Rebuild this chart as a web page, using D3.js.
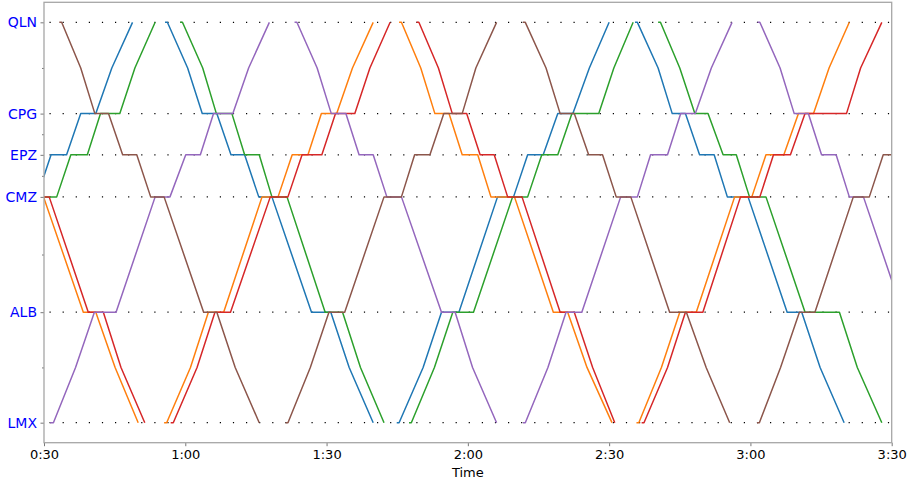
<!DOCTYPE html>
<html>
<head>
<meta charset="utf-8">
<script src="https://cdn.jsdelivr.net/npm/d3@7"></script>
<style>
    body { margin: 0; background: #fff; }
    svg { font-family: 'DejaVu Sans', sans-serif; }
</style>
</head>
<body>
<div id="chart-area"></div>
<script>

// DATA
// =================

// stations along the line (km from LMX)
var stations = ['LMX', 'ALB', 'CMZ', 'EPZ', 'CPG', 'QLN'];
var stationKm = [0, 27.6, 56.4, 66.9, 77.2, 100];

// every point a train passes, incl. the two speed-change points
var pointCodes = ['LMX', 'AL', 'ALB', 'CMZ', 'EPZ', 'CPG', 'QC', 'QLN'];
var pointKm = [0, 13.8, 27.6, 56.4, 66.9, 77.2, 88.6, 100];

// minor y ticks
var minorKm = [13.8, 42.0, 61.65, 72.05, 88.6];

// x ticks (minutes after 0:00)
var timeTicks = [30, 60, 90, 120, 150, 180, 210];

// trips per train: [minute, point]
var blueTrips = [
    [[25.5, 'CMZ'], [28.5, 'CMZ'], [31.5, 'EPZ'], [34.8, 'EPZ'], [37.8, 'CPG'], [41.0, 'CPG'], [44.4, 'QC'], [48.8, 'QLN']],
    [[55.7, 'QLN'], [56.2, 'QLN'], [60.5, 'QC'], [63.6, 'CPG'], [66.7, 'CPG'], [69.7, 'EPZ'], [72.6, 'EPZ'], [75.6, 'CMZ'], [78.4, 'CMZ'], [86.8, 'ALB'], [90.9, 'ALB'], [94.8, 'AL'], [99.9, 'LMX']],
    [[104.9, 'LMX'], [105.4, 'LMX'], [110.5, 'AL'], [114.4, 'ALB'], [118.1, 'ALB'], [126.3, 'CMZ'], [129.7, 'CMZ'], [132.7, 'EPZ'], [136.0, 'EPZ'], [139.1, 'CPG'], [142.3, 'CPG'], [145.8, 'QC'], [150.0, 'QLN']],
    [[155.5, 'QLN'], [156.0, 'QLN'], [160.4, 'QC'], [163.4, 'CPG'], [166.2, 'CPG'], [169.2, 'EPZ'], [172.3, 'EPZ'], [175.1, 'CMZ'], [179.5, 'CMZ'], [187.8, 'ALB'], [190.9, 'ALB'], [194.8, 'AL'], [199.9, 'LMX']]
];

var orangeTrips = [
    [[28.0, 'CMZ'], [29.9, 'CMZ'], [38.35, 'ALB'], [41.0, 'ALB'], [45.1, 'AL'], [50.0, 'LMX']],
    [[55.5, 'LMX'], [56.05, 'LMX'], [61.1, 'AL'], [64.9, 'ALB'], [68.15, 'ALB'], [76.3, 'CMZ'], [79.7, 'CMZ'], [82.7, 'EPZ'], [86.05, 'EPZ'], [88.9, 'CPG'], [92.15, 'CPG'], [95.5, 'QC'], [99.9, 'QLN']],
    [[105.4, 'QLN'], [105.9, 'QLN'], [110.0, 'QC'], [113.0, 'CPG'], [116.0, 'CPG'], [118.8, 'EPZ'], [122.1, 'EPZ'], [124.9, 'CMZ'], [129.9, 'CMZ'], [138.15, 'ALB'], [141.2, 'ALB'], [145.3, 'AL'], [150.6, 'LMX']],
    [[155.8, 'LMX'], [156.3, 'LMX'], [161.1, 'AL'], [165.0, 'ALB'], [168.5, 'ALB'], [176.65, 'CMZ'], [180.3, 'CMZ'], [183.3, 'EPZ'], [187.1, 'EPZ'], [190.2, 'CPG'], [193.4, 'CPG'], [196.7, 'QC'], [201.0, 'QLN']]
];

var greenTrips = [
    [[27.0, 'CMZ'], [32.7, 'CMZ'], [35.7, 'EPZ'], [39.2, 'EPZ'], [42.0, 'CPG'], [46.1, 'CPG'], [49.3, 'QC'], [53.6, 'QLN']],
    [[58.9, 'QLN'], [59.4, 'QLN'], [63.7, 'QC'], [66.6, 'CPG'], [69.9, 'CPG'], [72.6, 'EPZ'], [75.7, 'EPZ'], [78.4, 'CMZ'], [81.6, 'CMZ'], [89.7, 'ALB'], [93.4, 'ALB'], [97.2, 'AL'], [102.2, 'LMX']],
    [[107.5, 'LMX'], [108.0, 'LMX'], [112.9, 'AL'], [116.8, 'ALB'], [121.2, 'ALB'], [129.5, 'CMZ'], [132.7, 'CMZ'], [135.7, 'EPZ'], [139.1, 'EPZ'], [142.1, 'CPG'], [147.8, 'CPG'], [151.0, 'QC'], [155.1, 'QLN']],
    [[160.4, 'QLN'], [160.9, 'QLN'], [165.0, 'QC'], [168.2, 'CPG'], [171.0, 'CPG'], [174.2, 'EPZ'], [177.0, 'EPZ'], [179.8, 'CMZ'], [183.3, 'CMZ'], [191.6, 'ALB'], [198.9, 'ALB'], [202.7, 'AL'], [207.9, 'LMX']]
];

var redTrips = [
    [[28.0, 'CMZ'], [31.1, 'CMZ'], [39.4, 'ALB'], [42.6, 'ALB'], [46.35, 'AL'], [51.4, 'LMX']],
    [[56.9, 'LMX'], [57.45, 'LMX'], [62.5, 'AL'], [66.3, 'ALB'], [69.6, 'ALB'], [78.05, 'CMZ'], [81.8, 'CMZ'], [84.8, 'EPZ'], [89.0, 'EPZ'], [91.9, 'CPG'], [96.0, 'CPG'], [99.2, 'QC'], [103.5, 'QLN']],
    [[109.1, 'QLN'], [109.6, 'QLN'], [113.75, 'QC'], [116.7, 'CPG'], [119.75, 'CPG'], [122.6, 'EPZ'], [125.6, 'EPZ'], [128.45, 'CMZ'], [131.5, 'CMZ'], [139.6, 'ALB'], [142.6, 'ALB'], [146.5, 'AL'], [151.2, 'LMX']],
    [[156.9, 'LMX'], [157.4, 'LMX'], [162.4, 'AL'], [166.2, 'ALB'], [169.9, 'ALB'], [177.9, 'CMZ'], [182.0, 'CMZ'], [184.9, 'EPZ'], [188.5, 'EPZ'], [191.6, 'CPG'], [200.4, 'CPG'], [203.4, 'QC'], [207.9, 'QLN']]
];

var purpleTrips = [
    [[31.3, 'LMX'], [32.0, 'LMX'], [36.7, 'AL'], [40.7, 'ALB'], [45.3, 'ALB'], [53.6, 'CMZ'], [56.75, 'CMZ'], [60.1, 'EPZ'], [63.2, 'EPZ'], [66.0, 'CPG'], [70.1, 'CPG'], [73.45, 'QC'], [77.85, 'QLN']],
    [[83.2, 'QLN'], [83.7, 'QLN'], [88.0, 'QC'], [91.0, 'CPG'], [94.1, 'CPG'], [96.9, 'EPZ'], [99.9, 'EPZ'], [102.8, 'CMZ'], [105.9, 'CMZ'], [114.4, 'ALB'], [117.3, 'ALB'], [121.0, 'AL'], [126.1, 'LMX']],
    [[131.7, 'LMX'], [132.2, 'LMX'], [137.0, 'AL'], [140.85, 'ALB'], [144.2, 'ALB'], [152.45, 'CMZ'], [156.0, 'CMZ'], [158.8, 'EPZ'], [162.4, 'EPZ'], [165.2, 'CPG'], [168.3, 'CPG'], [171.7, 'QC'], [176.1, 'QLN']],
    [[181.5, 'QLN'], [182.0, 'QLN'], [186.3, 'QC'], [189.3, 'CPG'], [192.3, 'CPG'], [195.1, 'EPZ'], [198.2, 'EPZ'], [201.0, 'CMZ'], [204.0, 'CMZ'], [212.3, 'ALB']]
];

var brownTrips = [
    [[33.25, 'QLN'], [33.75, 'QLN'], [37.8, 'QC'], [40.8, 'CPG'], [43.7, 'CPG'], [46.7, 'EPZ'], [49.7, 'EPZ'], [52.65, 'CMZ'], [55.5, 'CMZ'], [63.9, 'ALB'], [66.7, 'ALB'], [70.6, 'AL'], [75.7, 'LMX']],
    [[81.3, 'LMX'], [81.8, 'LMX'], [86.55, 'AL'], [90.5, 'ALB'], [93.85, 'ALB'], [102.2, 'CMZ'], [105.9, 'CMZ'], [108.7, 'EPZ'], [111.95, 'EPZ'], [114.9, 'CPG'], [118.8, 'CPG'], [121.7, 'QC'], [126.1, 'QLN']],
    [[131.7, 'QLN'], [132.2, 'QLN'], [136.6, 'QC'], [139.6, 'CPG'], [142.6, 'CPG'], [145.65, 'EPZ'], [148.6, 'EPZ'], [151.5, 'CMZ'], [154.6, 'CMZ'], [162.85, 'ALB'], [166.4, 'ALB'], [170.6, 'AL'], [175.6, 'LMX']],
    [[181.4, 'LMX'], [181.9, 'LMX'], [186.4, 'AL'], [190.4, 'ALB'], [193.7, 'ALB'], [201.85, 'CMZ'], [205.25, 'CMZ'], [208.2, 'EPZ'], [211.0, 'EPZ']]
];

var trains = [
    { trips: blueTrips, color: '#1f77b4' },
    { trips: orangeTrips, color: '#ff7f0e' },
    { trips: greenTrips, color: '#2ca02c' },
    { trips: redTrips, color: '#d62728' },
    { trips: purpleTrips, color: '#9467bd' },
    { trips: brownTrips, color: '#8c564b' }
];

// CANVAS
// =================
var W = 909, H = 482;
var plotL = 44, plotR = 891.7, plotT = 2.3, plotB = 442.7;

var svg = d3.select('#chart-area')
    .append('svg')
        .attr('width', W)
        .attr('height', H);

var x = d3.scaleLinear().domain([30, 210]).range([plotL, plotR]);
var y = d3.scaleLinear().domain([-5, 105]).range([plotB, plotT]);

function kmOf(code) {
    return pointKm[pointCodes.indexOf(code)];
}

svg.append('clipPath')
    .attr('id', 'plot-clip')
    .append('rect')
        .attr('x', plotL)
        .attr('y', plotT)
        .attr('width', plotR - plotL)
        .attr('height', plotB - plotT);

// GRID (dotted station lines)
svg.append('g')
    .selectAll('line')
    .data(stationKm)
    .enter()
    .append('line')
        .attr('x1', plotL)
        .attr('x2', plotR)
        .attr('y1', d => y(d))
        .attr('y2', d => y(d))
        .attr('stroke', '#000')
        .attr('stroke-width', 1.2)
        .attr('stroke-dasharray', '1.2,11.9')
        .attr('stroke-dashoffset', -5.5);

// TRAINS
// =================
var line = d3.line()
    .x(d => x(d[0]))
    .y(d => y(kmOf(d[1])));

var plot = svg.append('g').attr('clip-path', 'url(#plot-clip)');

trains.forEach(t => {
    plot.append('g')
        .selectAll('path')
        .data(t.trips)
        .enter()
        .append('path')
            .attr('d', line)
            .attr('fill', 'none')
            .attr('stroke', t.color)
            .attr('stroke-width', 1.5)
            .attr('stroke-linejoin', 'round');
});

// AXES
// =================
var fmt = m => Math.floor(m / 60) + ':' + String(m % 60).padStart(2, '0');

var xAxis = svg.append('g')
    .attr('transform', 'translate(0,' + plotB + ')')
    .call(d3.axisBottom(x).tickValues(timeTicks).tickFormat(fmt).tickSize(3.5).tickPadding(3.5));
xAxis.selectAll('text')
    .attr('font-size', '13px')
    .attr('font-family', 'DejaVu Sans')
    .attr('fill', '#000');

var yAxis = svg.append('g')
    .attr('transform', 'translate(' + plotL + ',0)')
    .call(d3.axisLeft(y).tickValues(stationKm).tickFormat((d, i) => stations[i]).tickSize(3.5).tickPadding(3.5));
yAxis.selectAll('text')
    .attr('font-size', '14px')
    .attr('font-family', 'DejaVu Sans')
    .attr('fill', '#0000ff');

var yMinor = svg.append('g')
    .attr('transform', 'translate(' + plotL + ',0)')
    .call(d3.axisLeft(y).tickValues(minorKm).tickFormat('').tickSize(2));

[xAxis, yAxis, yMinor].forEach(a => {
    a.select('.domain').remove();
    a.selectAll('line').attr('stroke', '#555').attr('stroke-width', 0.8);
});

// FRAME
svg.append('rect')
    .attr('x', plotL)
    .attr('y', plotT)
    .attr('width', plotR - plotL)
    .attr('height', plotB - plotT)
    .attr('fill', 'none')
    .attr('stroke', '#a6a6a6')
    .attr('stroke-width', 1.3);

// LABEL
svg.append('text')
    .attr('x', (plotL + plotR) / 2)
    .attr('y', 477)
    .attr('text-anchor', 'middle')
    .attr('font-size', '13px')
    .text('Time');

</script>
</body>
</html>
